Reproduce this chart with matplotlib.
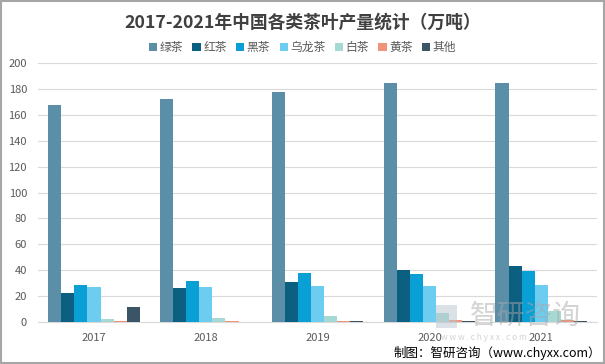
import matplotlib
matplotlib.use("Agg")
import matplotlib.pyplot as plt
import numpy as np
from matplotlib.patches import Rectangle

plt.rcParams['font.family'] = ['Noto Sans CJK SC', 'DejaVu Sans']

years = ["2017", "2018", "2019", "2020", "2021"]
series_names = ["绿茶", "红茶", "黑茶", "乌龙茶", "白茶", "黄茶", "其他"]
green_tea = [167.6, 172.2, 177.3, 184.3, 184.9]
black_tea_red = [22.1, 26.2, 30.7, 40.4, 43.5]
dark_tea = [28.6, 31.9, 37.8, 37.3, 39.7]
oolong_tea = [27.1, 27.1, 27.6, 27.8, 28.7]
white_tea = [2.6, 3.4, 5.0, 7.3, 8.2]
yellow_tea = [0.9, 1.0, 0.9, 1.2, 1.3]
other_tea = [11.5, 0.0, 1.0, 0.6, 0.5]
colors = ["#5b8fa8", "#0b5f80", "#0aa0d6", "#6dcdf0", "#a7d9d4", "#ef9478", "#3b5566"]

all_series = [green_tea, black_tea_red, dark_tea, oolong_tea, white_tea, yellow_tea, other_tea]

fig = plt.figure(figsize=(6.05, 3.64), dpi=100)
ax = fig.add_axes([0.063, 0.1154, 0.924, 0.7115])

x = np.arange(len(years))
w = 0.117
for i, (vals, name, c) in enumerate(zip(all_series, series_names, colors)):
    ax.bar(x + (i - 3) * w, vals, w, color=c, label=name, zorder=3)

ax.set_xlim(-0.5, 4.5)
ax.set_ylim(0, 200)
ax.set_yticks(range(0, 201, 20))
ax.set_xticks(x)
ax.set_xticklabels(years)
ax.yaxis.grid(True, color="#d9d9d9", linewidth=0.8, zorder=0)
for s in ["top", "right", "left"]:
    ax.spines[s].set_visible(False)
ax.spines["bottom"].set_color("#d9d9d9")
ax.tick_params(axis="both", length=0, labelsize=8, colors="#595959", pad=8)

fig.text(0.5, 0.937, "2017-2021年中国各类茶叶产量统计（万吨）", ha="center", va="center",
         fontsize=12.8, fontweight="bold", color="#404040")
fig.legend(loc="center", bbox_to_anchor=(0.5, 0.87), ncol=7, frameon=False,
           fontsize=8.5, handlelength=0.7, handleheight=0.7, handletextpad=0.2,
           columnspacing=0.8, labelcolor="#595959")

# watermark
fig.text(0.868, 0.132, "智研咨询", ha="center", va="center", fontsize=20,
         color="#a8a8a8", alpha=0.5, zorder=10)
fig.text(0.8, 0.074, "w w w . c h y x x . c o m", ha="center", va="center",
         fontsize=6, color="#a8a8a8", alpha=0.5, zorder=10)
fig.patches.append(Rectangle((0.72, 0.1), 0.035, 0.062, transform=fig.transFigure,
                             facecolor="#b8c6d0", alpha=0.5, zorder=10))

fig.text(0.993, 0.03, "制图：智研咨询（www.chyxx.com）", ha="right", va="center",
         fontsize=9, color="#000000")

fig.patches.append(Rectangle((0.001, 0.002), 0.997, 0.995, transform=fig.transFigure,
                             fill=False, edgecolor="#a6a6a6", linewidth=1.5))

fig.savefig("out.png", dpi=100)
